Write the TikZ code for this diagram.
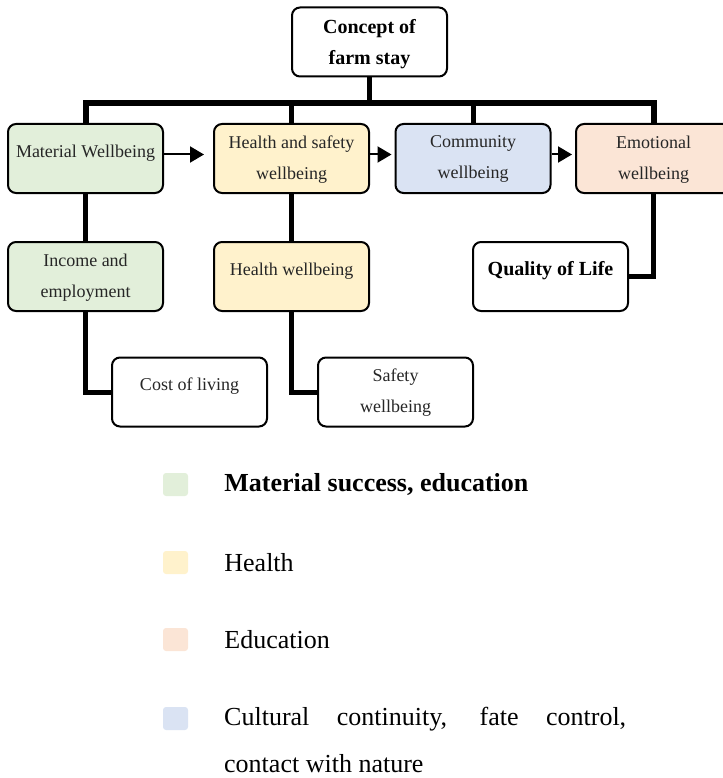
\documentclass[tikz,border=0pt]{standalone}
\usepackage{fontspec}
\setmainfont{Liberation Serif}
\usetikzlibrary{arrows.meta,positioning}
\definecolor{wbGreen}{HTML}{E2EFDA}
\definecolor{wbYellow}{HTML}{FFF2CC}
\definecolor{wbBlue}{HTML}{DAE3F3}
\definecolor{wbRose}{HTML}{FBE5D6}
\definecolor{wbInk}{HTML}{262626}
\tikzset{
  box/.style={rounded corners=8pt,draw=black,line width=2pt,fill=white,
              minimum width=155pt,minimum height=69pt,inner sep=0pt},
  boxlbl/.style={anchor=north,yshift=-12.5pt,inner sep=0pt,align=center,text=wbInk,
                 font=\fontsize{18}{31}\selectfont,execute at begin node=\strut},
  tag/.style={label={[boxlbl]north:{#1}}},
  btag/.style={label={[boxlbl,font=\fontsize{20}{31}\selectfont\bfseries,text=black]north:{#1}}},
  link/.style={line width=5pt,draw=black},
  bus/.style={line width=6pt,draw=black},
  arr/.style={-{Triangle[length=14pt,width=16pt]},line width=2pt},
  legbox/.style={rounded corners=3pt,minimum width=25pt,minimum height=23pt,inner sep=0pt},
  legtxt/.style={font=\fontsize{26}{47}\selectfont,inner sep=0pt,anchor=west,align=left},
}
\begin{document}
\begin{tikzpicture}[x=1pt,y=-1pt]
  \useasboundingbox (0,0) rectangle (722,778);
  % top
  \node[box,btag={Concept of\\farm stay}] (concept) at (369.5,42) {};
  % first row
  \node[box,fill=wbGreen,tag={Material Wellbeing}] (mat) at (85.5,158.5) {};
  \node[box,fill=wbYellow,tag={Health and safety\\wellbeing}] (hs) at (291.5,158.5) {};
  \node[box,fill=wbBlue,tag={Community\\wellbeing}] (com) at (473,158.5) {};
  \node[box,fill=wbRose,tag={Emotional\\wellbeing}] (emo) at (653.5,158.5) {};
  % second row
  \node[box,fill=wbGreen,tag={Income and\\employment}] (inc) at (85.5,276.5) {};
  \node[box,fill=wbYellow,tag={Health wellbeing}] (hw) at (291.5,276.5) {};
  \node[box,btag={Quality of Life}] (qol) at (550.5,276.5) {};
  % third row
  \node[box,tag={Cost of living}] (cost) at (189.5,392) {};
  \node[box,tag={Safety\\wellbeing}] (saf) at (395.5,392) {};

  % tree lines
  \coordinate (busR) at (653.5,103);
  \draw[bus] (mat.north) |- (busR) -- (emo.north);
  \draw[link] (concept.south) -- (concept.south |- busR);
  \draw[link] (hs.north |- busR) -- (hs.north);
  \draw[link] (com.north |- busR) -- (com.north);
  \draw[link] (mat.south) -- (inc.north);
  \draw[link] (hs.south) -- (hw.north);
  \draw[link] (inc.south) |- (cost.west);
  \draw[link] (hw.south) |- (saf.west);
  \draw[link] (emo.south) |- (qol.east);

  % arrows along the first row
  \draw[arr,shorten >=9pt] ([yshift=4pt]mat.east) -- ([yshift=4pt]hs.west);
  \draw[arr,shorten >=3pt] ([yshift=4pt]hs.east) -- ([yshift=4pt]com.west);
  \draw[arr,shorten >=3pt] ([yshift=4pt]com.east) -- ([yshift=4pt]emo.west);

  % legend
  \node[legbox,fill=wbGreen] (sqMat) at (175.5,484.5) {};
  \node[legtxt,right=36pt of sqMat,font=\fontsize{26}{47}\selectfont\bfseries] (txtMat) {Material success, education};
  \node[legbox,fill=wbYellow] (sqHlt) at (175.5,562.5) {};
  \node[legtxt,right=36pt of sqHlt] (txtHlt) {Health};
  \node[legbox,fill=wbRose] (sqEdu) at (175.5,639.5) {};
  \node[legtxt,right=36pt of sqEdu] (txtEdu) {Education};
  \node[legbox,fill=wbBlue] (sqCul) at (175.5,718.5) {};
  \node[legtxt] (txtCul) at (224,740) {\makebox[402pt][s]{Cultural continuity, fate control,}\\contact with nature};
\end{tikzpicture}
\end{document}
